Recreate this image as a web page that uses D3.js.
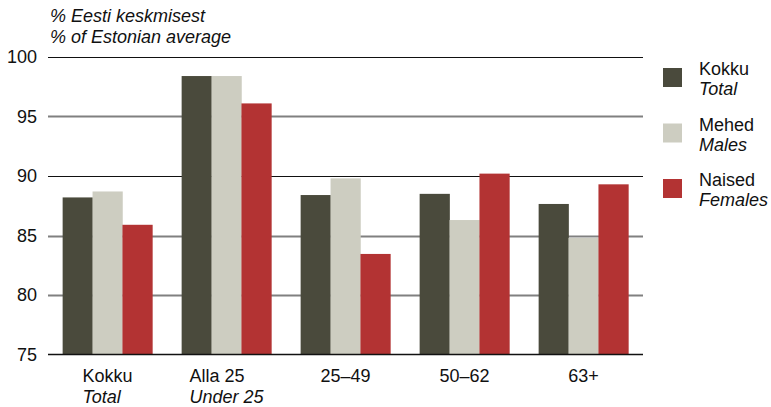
<!DOCTYPE html>
<html><head><meta charset="utf-8">
<script src="https://cdn.jsdelivr.net/npm/d3@7/dist/d3.min.js"></script>
<style>body{margin:0;background:#fff}svg{display:block;font-family:"Liberation Sans",Arial,sans-serif}</style>
</head><body><svg id="c" width="771" height="407"></svg>
<script>
const categories = ["Kokku", "Alla 25", "25–49", "50–62", "63+"];
const categoriesEn = ["Total", "Under 25", "", "", ""];
const seriesNames = ["Kokku", "Mehed", "Naised"];
const seriesNamesEn = ["Total", "Males", "Females"];
const total = [88.2, 98.4, 88.4, 88.5, 87.65];
const males = [88.7, 98.4, 89.8, 86.3, 84.8];
const females = [85.9, 96.1, 83.45, 90.2, 89.3];
const yTicks = [75, 80, 85, 90, 95, 100];
const titleLines = ["% Eesti keskmisest", "% of Estonian average"];
const colors = ["#4a4a3c", "#cdcdc1", "#b33333"];

const series = [total, males, females];
const svg = d3.select("#c");
const x0 = 48, x1 = 643;
const y = d3.scaleLinear().domain([75, 100]).range([354.5, 57]);
const x = d3.scaleBand().domain(categories).range([x0, x1]).paddingInner(0.246).paddingOuter(0.123);
const xs = d3.scaleBand().domain(d3.range(series.length)).range([0, x.bandwidth()]);

// gridlines
const darkLines = new Set([100, 90]);
svg.append("g").selectAll("line").data(yTicks.filter(t => t > 75)).join("line")
  .attr("x1", x0).attr("x2", x1)
  .attr("y1", d => Math.round(y(d)) + 0.5).attr("y2", d => Math.round(y(d)) + 0.5)
  .attr("stroke", d => darkLines.has(d) ? "#111" : "#808080")
  .attr("stroke-width", d => darkLines.has(d) ? 1.2 : 2);

// bars
const g = svg.append("g");
categories.forEach((c, i) => {
  series.forEach((s, j) => {
    g.append("rect")
      .attr("x", x(c) + xs(j))
      .attr("width", xs.bandwidth() + 0.3)
      .attr("y", y(s[i]))
      .attr("height", y(75) - y(s[i]))
      .attr("fill", colors[j]);
  });
});

// baseline
svg.append("line").attr("x1", x0).attr("x2", x1)
  .attr("y1", y(75)).attr("y2", y(75)).attr("stroke", "#111").attr("stroke-width", 1.5);

// y tick labels
svg.append("g").selectAll("text").data(yTicks).join("text")
  .attr("x", 37).attr("y", d => y(d)).attr("dy", "0.35em")
  .attr("text-anchor", "end").attr("font-size", 18).attr("fill", "#111")
  .text(d => d);

// title
svg.append("g").selectAll("text").data(titleLines).join("text")
  .attr("x", 50).attr("y", (d, i) => 22 + i * 21)
  .attr("font-size", 18).attr("font-style", "italic").attr("fill", "#111")
  .text(d => d);

// x labels: two-line blocks left-aligned, block centred on group
const xg = svg.append("g");
categories.forEach((c, i) => {
  const cx = x(c) + x.bandwidth() / 2;
  const blk = xg.append("g");
  const t1 = blk.append("text").attr("y", 381.5).attr("font-size", 18).attr("fill", "#111").text(c);
  let w = t1.node().getComputedTextLength();
  if (categoriesEn[i]) {
    const t2 = blk.append("text").attr("y", 403).attr("font-size", 18).attr("font-style", "italic").attr("fill", "#111").text(categoriesEn[i]);
    w = Math.max(w, t2.node().getComputedTextLength());
  }
  blk.selectAll("text").attr("x", cx - w / 2);
});

// legend
const lg = svg.append("g");
seriesNames.forEach((n, i) => {
  const top = 68 + i * 55.5;
  lg.append("rect").attr("x", 663).attr("y", top).attr("width", 19).attr("height", 19).attr("fill", colors[i]);
  lg.append("text").attr("x", 699).attr("y", top + 7).attr("font-size", 18).attr("fill", "#111").text(n);
  lg.append("text").attr("x", 699).attr("y", top + 27).attr("font-size", 18).attr("font-style", "italic").attr("fill", "#111").text(seriesNamesEn[i]);
});
</script></body></html>
